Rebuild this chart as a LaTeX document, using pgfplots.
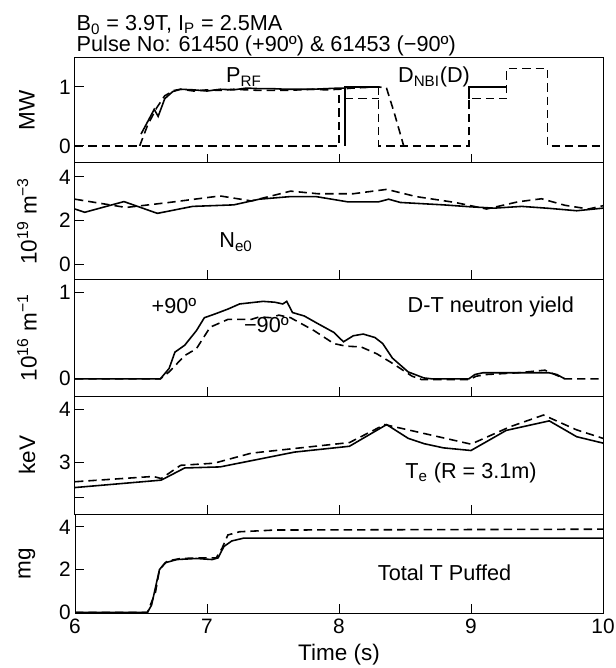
\documentclass[border=0pt]{standalone}
\usepackage{fontspec}
\setmainfont{Liberation Sans}
\usepackage{pgfplots}
\pgfplotsset{compat=1.18}
\pgfplotsset{
  panel/.style={
    scale only axis, width=316.8pt, xmin=6, xmax=10,
    xtick={7,8,9}, xticklabels={}, tick align=inside,
    xtick pos=bottom, ytick pos=left,
    major tick length=5.5pt,
    axis line style={line width=0.6pt},
    every tick/.style={black, line width=0.6pt},
    anchor=north west,
    /pgf/number format/assume math mode=true,
    tick label style={font=\fontsize{12.5}{14}\selectfont},
    yticklabel style={xshift=1pt},
    every axis y label/.style={at={(axis description cs:-0.0909,0.5)}, rotate=90, anchor=center, font=\fontsize{13.5}{15}\selectfont},
  },
  sl/.style={black, solid, no markers, line width=0.95pt},
  dsh/.style={black, no markers, line width=0.95pt, dash pattern=on 5pt off 3pt},
}
\newcommand{\ann}{\fontsize{13}{15}\selectfont}
\begin{document}
\begin{tikzpicture}
\useasboundingbox (-45pt,34.8pt) rectangle (324pt,-366pt);
\node[anchor=west, font=\fontsize{13}{15}\selectfont] at (-2.5pt,20pt) {B\textsubscript{0} = 3.9T, I\textsubscript{P} = 2.5MA};
\node[anchor=west, font=\fontsize{13}{15}\selectfont] at (-2.5pt,7pt) {Pulse No: 61450 (+90º) \& 61453 (−90º)};
% Panel 1
\begin{axis}[panel, at={(0pt,0pt)}, height=63pt, ymin=-0.29, ymax=1.49, ytick={0,1}, ylabel={MW}]
\addplot[dsh] coordinates {(6.49,0)(6.55,0.35)(6.62,0.65)(6.68,0.85)(6.75,0.94)(6.8,0.96)(6.9,0.93)(7.0,0.95)(7.1,0.94)(7.2,0.96)(7.3,0.95)(7.4,0.94)(7.5,0.94)(7.6,0.94)(7.7,0.95)(7.8,0.96)(7.9,0.95)(8.0,0.96)(8.1,0.98)(8.2,0.99)(8.3,1.0)(8.36,0.98)(8.42,0.55)(8.49,0)};
\addplot[dsh] coordinates {(6,0)(8.0,0)(8.0,0.97)};
\addplot[dsh] coordinates {(8.045,0.8)(8.3,0.8)};
\addplot[dsh] coordinates {(8.3,1.0)(8.3,0)(8.985,0)(8.985,0.8)(9.27,0.8)(9.27,1.31)(9.58,1.31)(9.58,0)(10,0)};
\addplot[sl] coordinates {(6.50,0.2)(6.56,0.45)(6.60,0.62)(6.63,0.5)(6.68,0.8)(6.74,0.92)(6.8,0.96)(6.9,0.95)(7.0,0.93)(7.1,0.96)(7.2,0.95)(7.3,0.98)(7.4,0.97)(7.5,0.97)(7.6,0.96)(7.7,0.96)(7.8,0.96)(7.9,0.97)(8.0,0.98)(8.045,0.98)};
\addplot[sl] coordinates {(8.045,0)(8.045,1.0)(8.3,1.0)};
\addplot[sl] coordinates {(8.985,0.8)(8.985,1.0)(9.27,1.0)};
\node[font=\ann] at (axis cs:7.28,1.17) {P\textsubscript{RF}};
\node[font=\ann] at (axis cs:8.72,1.17) {D\textsubscript{NBI}(D)};
\end{axis}
% Panel 2
\begin{axis}[panel, at={(0pt,-63pt)}, height=69.6pt, ymin=-0.68, ymax=4.64, ytick={0,2,4}, ylabel={10\textsuperscript{19} m\textsuperscript{−3}}]
\addplot[sl] coordinates {(6,2.53)(6.074,2.38)(6.371,2.87)(6.624,2.33)(6.891,2.65)(7.203,2.72)(7.396,2.98)(7.633,3.1)(7.826,3.1)(8.064,2.86)(8.301,2.86)(8.376,2.98)(8.465,2.83)(8.791,2.72)(8.999,2.63)(9.177,2.57)(9.385,2.65)(9.593,2.56)(9.801,2.45)(10,2.57)};
\addplot[dsh] coordinates {(6,2.98)(6.386,2.60)(6.713,2.83)(7.099,3.13)(7.336,2.90)(7.633,3.35)(7.841,3.23)(8.108,3.23)(8.361,3.43)(8.584,3.10)(8.880,2.83)(9.118,2.53)(9.356,2.86)(9.534,3.0)(9.712,2.7)(9.890,2.53)(10,2.68)};
\node[font=\ann] at (axis cs:7.22,1.02) {N\textsubscript{e0}};
\end{axis}
% Panel 3
\begin{axis}[panel, at={(0pt,-132.6pt)}, height=70.2pt, ymin=-0.2, ymax=1.16, ytick={0,1}, ylabel={10\textsuperscript{16} m\textsuperscript{−1}}]
\addplot[sl] coordinates {(6,0)(6.647,0)(6.713,0.12)(6.757,0.31)(6.831,0.39)(6.92,0.56)(6.98,0.71)(7.054,0.75)(7.158,0.81)(7.247,0.87)(7.425,0.90)(7.514,0.89)(7.574,0.87)(7.604,0.90)(7.648,0.77)(7.737,0.73)(7.841,0.64)(7.96,0.54)(8.034,0.43)(8.108,0.50)(8.183,0.52)(8.272,0.48)(8.331,0.41)(8.405,0.24)(8.524,0.08)(8.643,0.01)(8.70,0)(8.984,0)(9.03,0.05)(9.09,0.07)(9.3,0.07)(9.59,0.07)(9.65,0.05)(9.71,0)};
\addplot[dsh] coordinates {(6,0)(6.647,0)(6.713,0.08)(6.831,0.27)(6.92,0.35)(7.024,0.60)(7.158,0.69)(7.336,0.69)(7.396,0.72)(7.485,0.71)(7.544,0.74)(7.633,0.71)(7.811,0.56)(7.96,0.41)(8.05,0.38)(8.168,0.37)(8.287,0.29)(8.405,0.18)(8.554,0.03)(8.628,-0.01)(8.984,-0.01)(9.04,0.03)(9.12,0.05)(9.356,0.07)(9.56,0.10)(9.62,0.06)(9.71,0)(10,0)};
\node[font=\ann] at (axis cs:6.75,0.85) {+90º};
\node[font=\ann] at (axis cs:7.45,0.62) {−90º};
\node[font=\ann] at (axis cs:9.15,0.83) {D-T neutron yield};
\end{axis}
% Panel 4
\begin{axis}[panel, at={(0pt,-202.8pt)}, height=70.8pt, ymin=2.02, ymax=4.25, ytick={2.33,3,4}, yticklabels={,3,4}, ylabel={keV}]
\addplot[sl] coordinates {(6,2.52)(6.653,2.66)(6.831,2.89)(7.099,2.91)(7.663,3.19)(8.079,3.30)(8.361,3.71)(8.524,3.45)(8.643,3.35)(8.791,3.27)(9.0,3.22)(9.267,3.60)(9.593,3.78)(9.801,3.48)(10,3.36)};
\addplot[dsh] coordinates {(6,2.63)(6.594,2.73)(6.653,2.69)(6.80,2.94)(7.054,2.98)(7.336,3.17)(8.079,3.37)(8.346,3.71)(8.524,3.61)(9.0,3.34)(9.297,3.67)(9.549,3.89)(9.80,3.61)(10,3.45)};
\node[font=\ann] at (axis cs:9.0,2.80) {T\textsubscript{e} (R = 3.1m)};
\end{axis}
% Panel 5
\begin{axis}[panel, at={(0pt,-273.6pt)}, height=59.4pt, ymin=-0.03, ymax=4.6, ytick={0,2,4}, ylabel={mg},
  xtick={6,7,8,9,10}, xticklabels={6,7,8,9,10}, xlabel={Time (s)},
  every axis x label/.style={at={(axis description cs:0.5,0)}, anchor=center, yshift=-25pt, font=\fontsize{13.5}{15}\selectfont}]
\addplot[sl] coordinates {(6,0)(6.549,0)(6.58,0.34)(6.618,1.4)(6.64,2.0)(6.683,2.32)(6.772,2.47)(6.92,2.52)(7.04,2.47)(7.084,2.55)(7.128,3.08)(7.188,3.34)(7.277,3.47)(7.514,3.47)(10,3.47)};
\addplot[dsh] coordinates {(6,0)(6.549,0)(6.61,0.95)(6.64,2.0)(6.698,2.4)(6.80,2.52)(6.98,2.55)(7.07,2.55)(7.114,3.0)(7.158,3.62)(7.247,3.77)(7.514,3.85)(10,3.89)};
\node[font=\ann] at (axis cs:8.8,1.86) {Total T Puffed};
\end{axis}
\end{tikzpicture}
\end{document}
